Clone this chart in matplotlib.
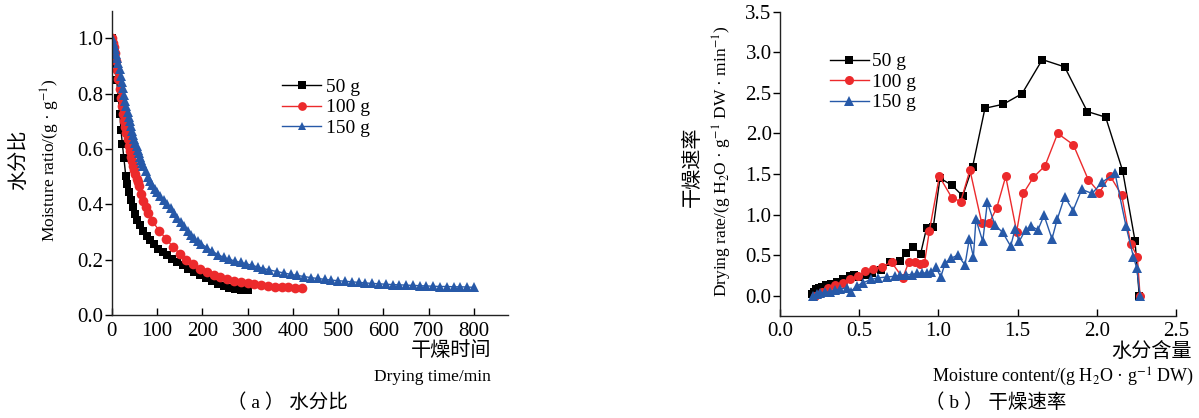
import matplotlib

matplotlib.use("Agg")
import matplotlib.pyplot as plt

plt.rcParams["font.family"] = ["Liberation Serif", "Noto Sans CJK SC"]
plt.rcParams["mathtext.fontset"] = "stix"
plt.rcParams["font.size"] = 14

# ---- (a) moisture ratio vs drying time ----
t_50 = [0, 4, 7, 11, 14.5, 18, 20.5, 23.5, 27, 31, 34.5, 38, 42, 46, 51, 56.5, 62.5,
        70, 77, 84.5, 93, 103, 112.5, 123, 134, 145, 156.5, 169, 182, 195, 208, 221,
        234, 247, 260, 273, 286, 300]
mr_50 = [1.0, 0.955, 0.906, 0.849, 0.786, 0.726, 0.67, 0.618, 0.566, 0.504, 0.474,
         0.444, 0.417, 0.39, 0.366, 0.345, 0.324, 0.302, 0.284, 0.27, 0.255, 0.24,
         0.228, 0.216, 0.204, 0.192, 0.18, 0.167, 0.155, 0.143, 0.132, 0.122, 0.113,
         0.105, 0.099, 0.095, 0.092, 0.089]

t_100 = [0, 2.5, 5, 7.5, 10, 12.5, 15, 17.5, 20, 22.5, 25, 27.5, 30, 32.5, 35, 37.5,
         40, 42.5, 45, 47.5, 50, 52.5, 55, 57.5, 60, 65, 70, 75, 80,
         90, 105, 120, 135, 150, 165, 180, 195, 210, 225, 240, 255, 270, 285,
         300, 315, 330, 345, 360, 375, 390, 405, 420]
mr_100 = [1.0, 0.985, 0.968, 0.948, 0.917, 0.885, 0.852, 0.818, 0.785, 0.755, 0.728,
          0.703, 0.68, 0.658, 0.635, 0.612, 0.592, 0.572, 0.555, 0.538, 0.523, 0.508,
          0.493, 0.479, 0.465, 0.438, 0.413, 0.39, 0.37,
          0.338, 0.305, 0.275, 0.247, 0.222, 0.20, 0.183, 0.168, 0.155, 0.145,
          0.137, 0.13, 0.124, 0.119, 0.115, 0.111, 0.108, 0.105, 0.103, 0.101,
          0.10, 0.099, 0.098]

t_150 = [0, 2.5, 5, 7.5, 10, 12.5, 15, 17.5, 20, 22.5, 25, 27.5, 30, 32.5, 35, 37.5,
         40, 42.5, 45, 47.5, 50, 52.5, 55, 57.5, 60, 62.5, 65, 67.5, 70,
         75, 80, 85, 90, 95, 100,
         107.5, 115, 122.5, 130, 137.5, 145, 152.5, 160, 167.5, 175, 182.5, 190, 197.5,
         210, 222.5, 235, 247.5, 260, 272.5, 285, 297.5, 310, 322.5, 335, 347.5,
         365, 380, 395, 410, 425, 440, 455, 470, 485, 500, 515, 530, 545, 560, 575,
         590, 605, 620, 635, 650, 665, 680, 695, 710, 725, 740, 755, 770, 785, 800]
mr_150 = [1.0, 0.988, 0.975, 0.961, 0.945, 0.928, 0.91, 0.888, 0.865, 0.843, 0.82,
          0.797, 0.775, 0.755, 0.735, 0.717, 0.70, 0.682, 0.665, 0.65, 0.635, 0.622,
          0.61, 0.597, 0.585, 0.572, 0.56, 0.55, 0.54,
          0.52, 0.50, 0.485, 0.47, 0.455, 0.445,
          0.43, 0.415, 0.40, 0.385, 0.368, 0.352, 0.336, 0.32, 0.305, 0.29, 0.278,
          0.267, 0.258,
          0.244, 0.23, 0.218, 0.208, 0.201, 0.195, 0.19, 0.185, 0.179, 0.174, 0.168,
          0.163,
          0.157, 0.152, 0.147, 0.143, 0.139, 0.135, 0.132, 0.129, 0.126, 0.124,
          0.122, 0.12, 0.118, 0.116, 0.114, 0.113, 0.111, 0.110, 0.109, 0.108,
          0.107, 0.106, 0.105, 0.104, 0.103, 0.103, 0.102, 0.102, 0.101, 0.10]

# ---- (b) drying rate vs moisture content ----
mc_50 = [2.268, 2.241, 2.163, 2.056, 1.94, 1.797, 1.656, 1.528, 1.41, 1.294, 1.216,
         1.153, 1.086, 1.01, 0.968, 0.926, 0.888, 0.838, 0.794, 0.758, 0.694, 0.636,
         0.58, 0.54, 0.50, 0.47, 0.44, 0.40, 0.36, 0.32, 0.29, 0.265, 0.245, 0.23,
         0.215, 0.205]
dr_50 = [0.0, 0.68, 1.54, 2.20, 2.27, 2.82, 2.91, 2.49, 2.36, 2.31, 1.59, 1.23, 1.36,
         1.45, 0.85, 0.84, 0.52, 0.60, 0.53, 0.43, 0.41, 0.32, 0.28, 0.26, 0.23, 0.25,
         0.24, 0.20, 0.17, 0.15, 0.13, 0.11, 0.10, 0.08, 0.05, 0.02]

mc_100 = [2.273, 2.256, 2.214, 2.157, 2.083, 2.016, 1.946, 1.852, 1.753, 1.673, 1.60,
          1.536, 1.494, 1.425, 1.368, 1.321, 1.273, 1.199, 1.141, 1.084, 1.006, 0.943,
          0.912, 0.885, 0.852, 0.812, 0.775, 0.705, 0.642, 0.589, 0.537, 0.495, 0.442,
          0.40, 0.347, 0.305, 0.263, 0.221]
dr_100 = [0.0, 0.48, 0.64, 1.24, 1.48, 1.27, 1.43, 1.86, 2.0, 1.60, 1.46, 1.26, 0.79,
          1.47, 1.08, 0.90, 0.90, 1.55, 1.16, 1.21, 1.47, 0.80, 0.40, 0.39, 0.41, 0.41,
          0.22, 0.41, 0.36, 0.33, 0.30, 0.24, 0.20, 0.16, 0.13, 0.095, 0.05, 0.0]

mc_150 = [2.273, 2.252, 2.231, 2.184, 2.115, 2.035, 1.970, 1.905, 1.850, 1.797, 1.750,
          1.717, 1.667, 1.628, 1.585, 1.550, 1.510, 1.484, 1.456, 1.406, 1.357, 1.309,
          1.28, 1.237, 1.221, 1.195, 1.168, 1.122, 1.078, 1.042, 1.015, 0.985, 0.955,
          0.925, 0.895, 0.863, 0.832, 0.795, 0.76, 0.726, 0.673, 0.62, 0.572, 0.526,
          0.484, 0.446, 0.42, 0.38, 0.347, 0.316, 0.285, 0.255, 0.232, 0.21]
dr_150 = [0.0, 0.34, 0.48, 0.86, 1.51, 1.40, 1.26, 1.31, 1.05, 1.22, 0.94, 0.70, 0.99,
          0.81, 0.86, 0.81, 0.67, 0.82, 0.61, 0.78, 0.87, 1.15, 0.67, 0.94, 0.48, 0.70,
          0.38, 0.50, 0.46, 0.40, 0.23, 0.35, 0.29, 0.28, 0.28, 0.275, 0.26, 0.26, 0.25,
          0.24, 0.23, 0.22, 0.20, 0.16, 0.12, 0.05, 0.10, 0.08, 0.07, 0.05, 0.04, 0.03,
          0.015, 0.0]

labels = ["50 g", "100 g", "150 g"]
BLACK, RED, BLUE = "#000000", "#ec2a2c", "#2759a8"

W, H = 1199, 418
fig = plt.figure(figsize=(W / 100, H / 100), dpi=100)


def px(x, y):
    return x / W, 1 - y / H


def style_axes(ax):
    for s in ("top", "right"):
        ax.spines[s].set_visible(False)
    for s in ("left", "bottom"):
        ax.spines[s].set_linewidth(1.0)
        ax.spines[s].set_color("#222222")
    ax.tick_params(axis="y", direction="out", length=5, width=1, pad=1, labelsize=15)
    ax.tick_params(axis="x", direction="in", length=5, width=1, pad=5, labelsize=15)


# (a)
ax1 = fig.add_axes([111.7 / W, 1 - 315 / H, 396.3 / W, 304.3 / H])
series_a = [(t_50, mr_50, BLACK, "s", 6.0),
            (t_100, mr_100, RED, "o", 7.0),
            (t_150, mr_150, BLUE, "^", 7.0)]
for (x, y, c, m, ms), lab in zip(series_a, labels):
    ax1.plot(x, y, color=c, marker=m, markersize=ms, markeredgewidth=0,
             linewidth=1.0, label=lab)
ax1.set_xlim(0, 875)
ax1.set_ylim(0, 1.1)
ax1.set_xticks(range(0, 801, 100))
ax1.set_yticks([0.0, 0.2, 0.4, 0.6, 0.8, 1.0])
ax1.set_yticklabels(["0.0", "0.2", "0.4", "0.6", "0.8", "1.0"])
style_axes(ax1)
ax1.legend(loc="upper left", bbox_to_anchor=(0.43, 0.778), frameon=False,
           handlelength=2.0, handletextpad=0.25, labelspacing=0.15,
           borderpad=0, borderaxespad=0, fontsize=14, markerscale=0.9)

fig.text(*px(20, 160), "水分比", rotation=90, ha="center", va="center", fontsize=14.5)
fig.text(*px(50, 160), r"Moisture ratio/(g · g$^{-1}$)", rotation=90,
         ha="center", va="center", fontsize=12.5)
fig.text(*px(491, 352), "干燥时间", ha="right", va="center", fontsize=14.5)
fig.text(*px(491, 377), "Drying time/min", ha="right", va="center", fontsize=12.5)
fig.text(*px(287, 403), "（ a ） 水分比", ha="center", va="center", fontsize=14)

# (b)
ax2 = fig.add_axes([780 / W, 1 - 316 / H, 396 / W, 304.3 / H])
series_b = [(mc_50, dr_50, BLACK, "s", 5.5),
            (mc_100, dr_100, RED, "o", 6.5),
            (mc_150, dr_150, BLUE, "^", 6.5)]
for (x, y, c, m, ms), lab in zip(series_b, labels):
    ax2.plot(x, y, color=c, marker=m, markersize=ms, markeredgewidth=0,
             linewidth=1.0, label=lab)
ax2.set_xlim(0, 2.5)
ax2.set_ylim(-0.25, 3.5)
ax2.set_xticks([0.0, 0.5, 1.0, 1.5, 2.0, 2.5])
ax2.set_xticklabels(["0.0", "0.5", "1.0", "1.5", "2.0", "2.5"])
ax2.set_yticks([0.0, 0.5, 1.0, 1.5, 2.0, 2.5, 3.0, 3.5])
ax2.set_yticklabels(["0.0", "0.5", "1.0", "1.5", "2.0", "2.5", "3.0", "3.5"])
style_axes(ax2)
ax2.tick_params(axis="x", pad=4)
ax2.legend(loc="upper left", bbox_to_anchor=(0.126, 0.865), frameon=False,
           handlelength=2.0, handletextpad=0.15, labelspacing=0.15,
           borderpad=0, borderaxespad=0, fontsize=14)

fig.text(*px(693, 167), "干燥速率", rotation=90, ha="center", va="center", fontsize=14.5)
fig.text(*px(722, 161), r"Drying rate/(g H$_2$O · g$^{-1}$ DW · min$^{-1}$)",
         rotation=90, ha="center", va="center", fontsize=12.5)
fig.text(*px(1192, 352), "水分含量", ha="right", va="center", fontsize=14.5)
fig.text(*px(1194, 377), r"Moisture content/(g H$_2$O · g$^{-1}$ DW)",
         ha="right", va="center", fontsize=13)
fig.text(*px(996, 403), "（ b ） 干燥速率", ha="center", va="center", fontsize=14)

fig.savefig("out.png", dpi=100)
